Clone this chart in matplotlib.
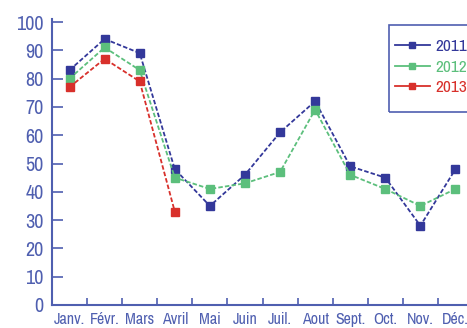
import matplotlib
matplotlib.use("Agg")
import matplotlib.pyplot as plt
from matplotlib import font_manager
from matplotlib.patches import Rectangle
import numpy as np

months = ["Janv.", "Févr.", "Mars", "Avril", "Mai", "Juin", "Juil.", "Aout", "Sept.", "Oct.", "Nov.", "Déc."]
y2011 = [83, 94, 89, 48, 35, 46, 61, 72, 49, 45, 28, 48]
y2012 = [80, 91, 83, 45, 41, 43, 47, 69, 46, 41, 35, 41]
y2013 = [77, 87, 79, 33]
yticks = [0, 10, 20, 30, 40, 50, 60, 70, 80, 90, 100]

axis_col = "#4f5fb0"
c2011 = "#33389a"
c2012 = "#5cbf7c"
c2013 = "#d8302b"

names = sorted({f.name for f in font_manager.fontManager.ttflist})
narrow = [n for n in names if "Narrow" in n or "Condensed" in n]
plt.rcParams['font.family'] = narrow[:1] + ['DejaVu Sans']
plt.rcParams['font.stretch'] = 'condensed'

W, H = 467, 328
fig = plt.figure(figsize=(W / 100, H / 100), dpi=100)
ax = fig.add_axes([52 / W, 23 / H, 421 / W, 283 / H])

x = np.arange(len(months))
series = [("2011", y2011, c2011), ("2012", y2012, c2012), ("2013", y2013, c2013)]
for name, vals, col in series:
    xs = x[:len(vals)]
    ax.plot(xs, vals, color=col, lw=1.3, ls=(0, (2.5, 1.2)),
            marker="s", ms=6, mec=col, mfc=col, zorder=3)
    ax.plot([], [], color=col, lw=1.3, marker="s", ms=5, label=name)

ax.set_xlim(-0.5, len(months) - 0.5)
ax.set_ylim(0, 100)
ax.set_yticks(yticks)
ax.set_yticklabels([str(v) for v in yticks], color=axis_col, fontsize=14.5)
ax.set_xticks(x)
ax.set_xticklabels(months, color=axis_col, fontsize=11.5)
ax.set_xticks(np.arange(len(months) + 1) - 0.5, minor=True)
ax.tick_params(axis="x", which="major", length=0, pad=5)
ax.tick_params(axis="x", which="minor", direction="in", length=5, color=axis_col, width=1.2)
ax.tick_params(axis="y", direction="in", length=8, color=axis_col, width=1.2, pad=6)

for s in ["top", "right"]:
    ax.spines[s].set_visible(False)
for s in ["left", "bottom"]:
    ax.spines[s].set_color(axis_col)
    ax.spines[s].set_linewidth(1.5)
ax.spines["left"].set_bounds(0, 101)

leg = ax.legend(loc="center left", bbox_to_anchor=((395 - 52) / 421, (305 - 67) / 283),
                borderaxespad=0, borderpad=0, frameon=False, fontsize=12.5,
                handlelength=2.0, handletextpad=0.35, labelspacing=0.33)
for t, (_, _, col) in zip(leg.get_texts(), series):
    t.set_color(col)

# legend frame, open on the right where the figure ends
fig.patches.append(Rectangle((389 / W, (H - 112) / H), 100 / W, 87 / H,
                             transform=fig.transFigure, fill=False,
                             edgecolor=axis_col, lw=1.2))

fig.savefig("out.png", dpi=100)
